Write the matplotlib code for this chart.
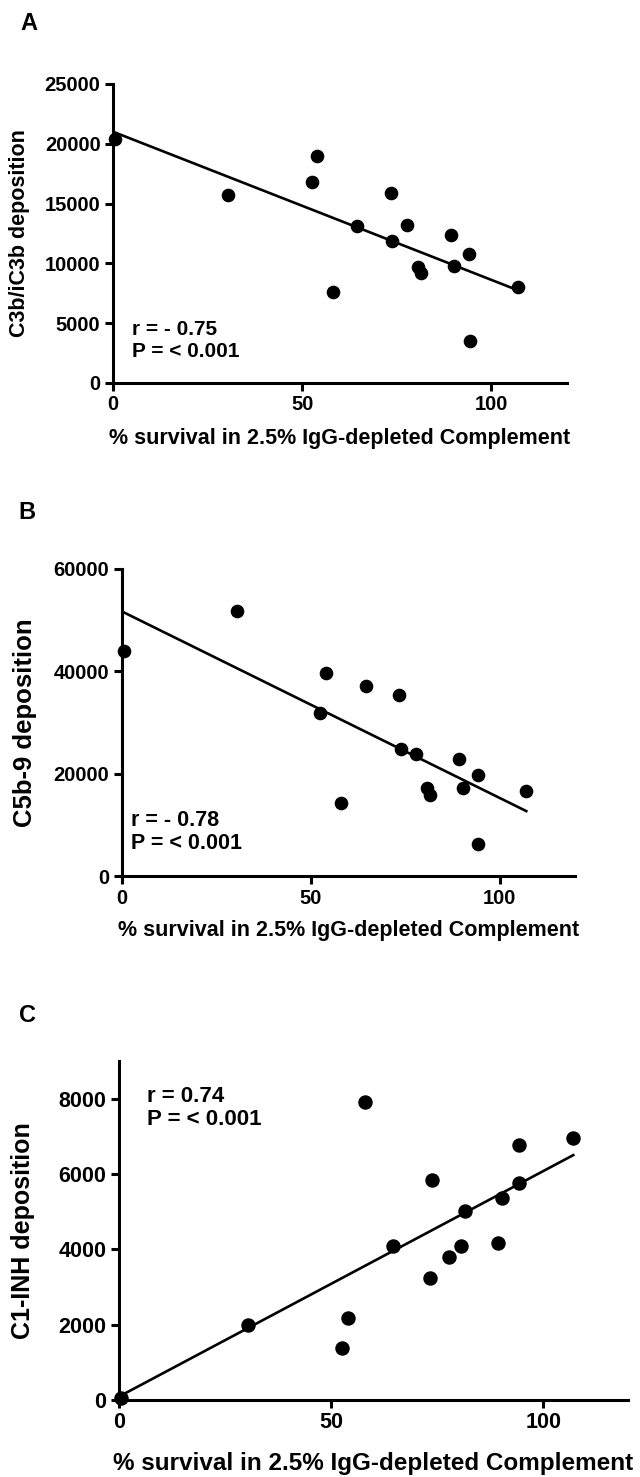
import matplotlib

matplotlib.use("Agg")
import matplotlib.pyplot as plt
import numpy as np

plt.rcParams["font.family"] = ["Liberation Sans", "DejaVu Sans"]
plt.rcParams["font.weight"] = "bold"

# % survival in 2.5% IgG-depleted complement (same strains in every panel)
survival = [0.5, 30.5, 52.5, 54.0, 58.1, 64.6, 73.4, 73.8, 77.8, 80.7, 81.5,
            89.3, 90.2, 94.2, 94.3, 107.1]
c3b = [20400, 15750, 16800, 19000, 7650, 13100, 15900, 11900, 13170, 9700, 9200,
       12400, 9800, 10750, 3550, 8050]
c5b9 = [44000, 51800, 31800, 39600, 14300, 37200, 35300, 24800, 23800, 17150, 15850,
        22900, 17150, 19700, 6300, 16600]
c1inh = [60, 2000, 1370, 2180, 7920, 4100, 3240, 5850, 3790, 4100, 5010,
         4170, 5370, 6760, 5760, 6960]

XLABEL = "% survival in 2.5% IgG-depleted Complement"


def scatter_panel(ax, x, y, ylabel, yticks, ylim, stats, stats_xy, sizes, label_xy):
    x = np.asarray(x, dtype=float)
    y = np.asarray(y, dtype=float)
    tick_fs, lab_fs, ylab_fs, st_fs, ms = sizes

    slope, icpt = np.polyfit(x, y, 1)
    xs = np.array([x.min(), x.max()])
    ax.plot(xs, slope * xs + icpt, color="black", linewidth=1.9, zorder=2)
    ax.plot(x, y, "o", color="black", markersize=ms, clip_on=False, zorder=3)

    ax.set_xlim(0, 120)
    ax.set_ylim(*ylim)
    ax.set_xticks([0, 50, 100])
    ax.set_yticks(yticks)
    for side in ("top", "right"):
        ax.spines[side].set_visible(False)
    for side in ("left", "bottom"):
        ax.spines[side].set_linewidth(2.2)
    ax.tick_params(direction="out", length=6, width=2.2, labelsize=tick_fs, pad=3)
    for t in ax.get_xticklabels() + ax.get_yticklabels():
        t.set_fontweight("bold")

    ax.set_xlabel(XLABEL, fontsize=lab_fs, fontweight="bold")
    ax.set_ylabel(ylabel, fontsize=ylab_fs, fontweight="bold")
    ax.xaxis.label.set_va("center")
    ax.yaxis.label.set_va("center")
    ax.xaxis.set_label_coords(0.5, label_xy[1])
    ax.yaxis.set_label_coords(label_xy[0], 0.5)

    ax.text(stats_xy[0], stats_xy[1], stats, fontsize=st_fs, fontweight="bold",
            va="center", ha="left", linespacing=1.15)


fig = plt.figure(figsize=(6.4, 14.77), dpi=100)

ax_a = fig.add_axes([113 / 640, 1 - 383 / 1477, 454 / 640, 299 / 1477])
scatter_panel(ax_a, survival, c3b, "C3b/iC3b deposition",
              [0, 5000, 10000, 15000, 20000, 25000], (0, 25000),
              "r = - 0.75\nP = < 0.001", (5.0, 3550),
              (14.5, 15.5, 15.5, 15, 8.8), (-0.205, -0.187))

ax_b = fig.add_axes([122 / 640, 1 - 876 / 1477, 453 / 640, 307 / 1477])
scatter_panel(ax_b, survival, c5b9, "C5b-9 deposition",
              [0, 20000, 40000, 60000], (0, 60000),
              "r = - 0.78\nP = < 0.001", (2.5, 8550),
              (14.5, 15.5, 18.5, 15.5, 8.8), (-0.214, -0.176))

ax_c = fig.add_axes([119 / 640, 1 - 1400 / 1477, 509 / 640, 339 / 1477])
scatter_panel(ax_c, survival, c1inh, "C1-INH deposition",
              [0, 2000, 4000, 6000, 8000], (0, 9000),
              "r = 0.74\nP = < 0.001", (6.6, 7750),
              (15.5, 17.5, 18, 16, 9.4), (-0.188, -0.186))

for letter, (px, py) in zip("ABC", [(29, 23), (27, 513), (28, 1015)]):
    fig.text(px / 640, 1 - py / 1477, letter, fontsize=17, fontweight="bold",
             ha="center", va="center")

fig.savefig("out.png", dpi=100)
plt.close(fig)
